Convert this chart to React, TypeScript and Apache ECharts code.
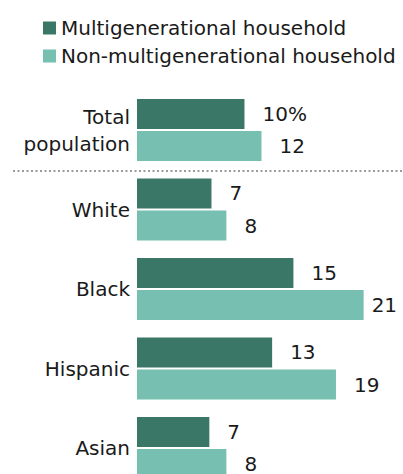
import React, { useEffect, useRef } from "react";
import * as echarts from "echarts";

const categories = ["Total\npopulation", "White", "Black", "Hispanic", "Asian"];
const seriesNames = ["Multigenerational household", "Non-multigenerational household"];
const multiValues = [10.1, 7.0, 14.7, 12.7, 6.8];
const nonMultiValues = [11.7, 8.4, 21.3, 18.7, 8.4];
const colors = ["#3a7766", "#77bfb0"];

const FONT = "DejaVu Sans";

export default function App() {
  const ref = useRef<HTMLDivElement>(null);
  useEffect(() => {
    if (!ref.current) return;
    const chart = echarts.init(ref.current, undefined, { renderer: "svg" });
    const labelFor = (isFirstSeries: boolean) => ({
      show: true,
      position: "right",
      distance: 18,
      fontFamily: FONT,
      fontSize: 20,
      color: "#1a1a1a",
      formatter: (p: any) => {
        const v = Math.round(p.value);
        return isFirstSeries && p.dataIndex === 0 ? v + "%" : String(v);
      },
    });
    const mkData = (vals: number[]) =>
      vals.map((v) => (v > 20 ? { value: v, label: { distance: 8 } } : v));
    chart.setOption({
      animation: false,
      legend: {
        data: seriesNames,
        orient: "vertical",
        left: 43,
        top: 18,
        padding: 0,
        itemWidth: 13,
        itemHeight: 13,
        itemGap: 8,
        icon: "rect",
        textStyle: { fontFamily: FONT, fontSize: 20, lineHeight: 20, color: "#1a1a1a" },
      },
      grid: { left: 137, top: 90.25, width: 267.5, height: 397.5, containLabel: false },
      xAxis: { type: "value", min: 0, max: 25, show: false },
      yAxis: {
        type: "category",
        data: categories,
        inverse: true,
        axisLine: { show: false },
        axisTick: { show: false },
        axisLabel: {
          fontFamily: FONT,
          fontSize: 20,
          lineHeight: 27,
          color: "#1a1a1a",
          margin: 7,
          align: "right",
        },
      },
      series: [
        {
          name: seriesNames[0],
          type: "bar",
          data: mkData(multiValues),
          itemStyle: { color: colors[0] },
          barWidth: 30,
          barGap: "7%",
          label: labelFor(true),
        },
        {
          name: seriesNames[1],
          type: "bar",
          data: mkData(nonMultiValues),
          itemStyle: { color: colors[1] },
          barWidth: 30,
          barGap: "7%",
          label: labelFor(false),
        },
      ],
      graphic: [
        {
          type: "line",
          shape: { x1: 13, y1: 171, x2: 403, y2: 171 },
          style: { stroke: "#9a9a9a", lineWidth: 2, lineDash: [2, 2.5] },
        },
      ],
    });
    return () => chart.dispose();
  }, []);
  return (
    <div
      style={{
        position: "absolute",
        left: 0,
        top: 0,
        width: 403,
        height: 474,
        overflow: "hidden",
      }}
    >
      <div ref={ref} style={{ width: 403, height: 500 }} />
    </div>
  );
}
